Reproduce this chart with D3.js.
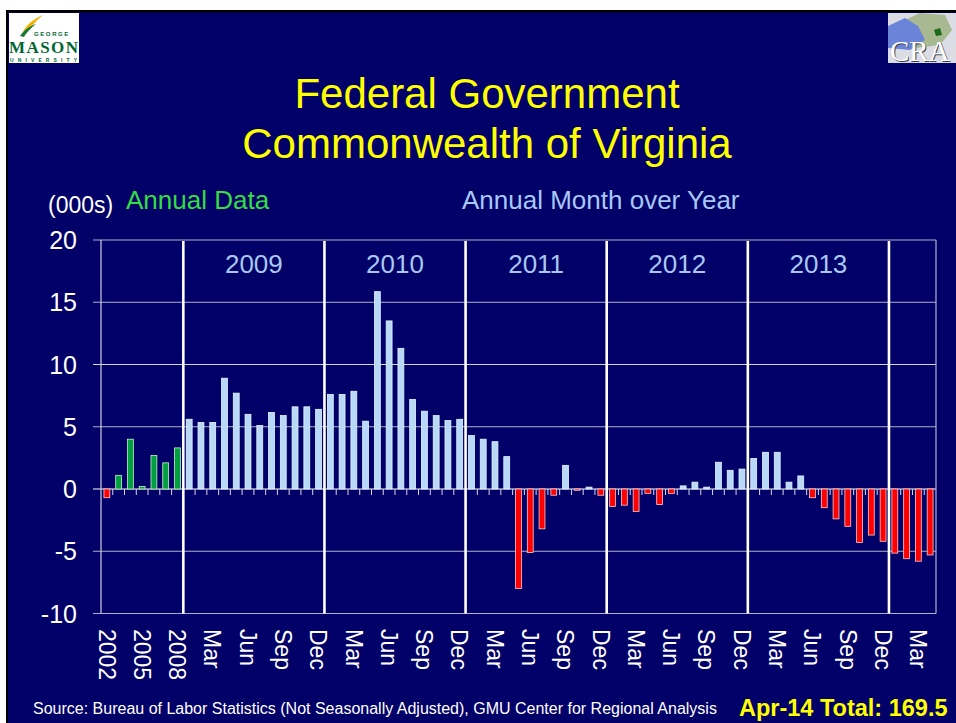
<!DOCTYPE html>
<html>
<head>
<meta charset="utf-8">
<script src="https://cdn.jsdelivr.net/npm/d3@7"></script>
<style>
  html, body { margin: 0; padding: 0; background: #ffffff; }
  svg { display: block; font-family: "Liberation Sans", Arial, sans-serif; }
</style>
</head>
<body>
<div id="chart"></div>
<script>
// annual totals (left part of chart)
var annualYears = ["2002", "2003", "2004", "2005", "2006", "2007", "2008"];
var annualValues = [-0.7, 1.1, 4.0, 0.2, 2.7, 2.1, 3.3];

// month over year change, Jan 2009 .. Apr 2014
var monthNames = ["Jan", "Feb", "Mar", "Apr", "May", "Jun", "Jul", "Aug", "Sep", "Oct", "Nov", "Dec"];
var monthYears = ["2009", "2010", "2011", "2012", "2013", "2014"];
var monthlyValues = [
  5.6, 5.35, 5.35, 8.9, 7.7, 6.0, 5.1, 6.15, 5.9, 6.6, 6.6, 6.4,
  7.6, 7.6, 7.85, 5.45, 15.85, 13.5, 11.3, 7.2, 6.25, 5.9, 5.5, 5.6,
  4.3, 4.0, 3.8, 2.6, -8.0, -5.1, -3.2, -0.5, 1.9, -0.1, 0.15, -0.5,
  -1.4, -1.3, -1.8, -0.35, -1.25, -0.35, 0.25, 0.55, 0.15, 2.15, 1.5, 1.6,
  2.45, 2.95, 2.95, 0.55, 1.05, -0.7, -1.5, -2.4, -3.0, -4.3, -3.7, -4.2,
  -5.15, -5.6, -5.8, -5.3
];

// year headings inside the chart
var yearLabels = ["2009", "2010", "2011", "2012", "2013"];
var yTicks = [-10, -5, 0, 5, 10, 15, 20];

var width = 956, height = 723;

// build the category list
var data = [];
annualYears.forEach(function (y, i) {
  data.push({ key: y, label: y, value: annualValues[i], annual: true });
});
monthlyValues.forEach(function (v, i) {
  var m = monthNames[i % 12];
  var yr = monthYears[Math.floor(i / 12)];
  data.push({ key: m + "-" + yr, label: m, value: v, annual: false });
});

var svg = d3.select("#chart").append("svg")
  .attr("width", width)
  .attr("height", height);

// slide background
svg.append("rect").attr("x", 6).attr("y", 10).attr("width", width - 6).attr("height", height - 10).attr("fill", "#000000");
svg.append("rect").attr("x", 8).attr("y", 12.5).attr("width", width - 8).attr("height", height - 12.5).attr("fill", "#000068");

// scales
var x = d3.scaleBand()
  .domain(data.map(function (d) { return d.key; }))
  .range([101, 936])
  .paddingInner(0.5)
  .paddingOuter(0.25);
var y = d3.scaleLinear().domain([-10, 20]).range([613.5, 240]);
var gap = (x.step() - x.bandwidth()) / 2;

// gridlines
svg.append("g").selectAll("line").data(yTicks).enter().append("line")
  .attr("x1", 93).attr("x2", 936)
  .attr("y1", function (d) { return y(d); })
  .attr("y2", function (d) { return y(d); })
  .attr("stroke", function (d) { return d === 0 ? "#ffffff" : (d === 10 ? "#d4d4e4" : "#b0b0c8"); })
  .attr("stroke-width", 1.2);

// frame
svg.append("line").attr("x1", 101).attr("x2", 101).attr("y1", y(20)).attr("y2", y(-10)).attr("stroke", "#d0d0e0").attr("stroke-width", 1.2);
svg.append("line").attr("x1", 936).attr("x2", 936).attr("y1", y(20)).attr("y2", y(-10)).attr("stroke", "#b4b4cc").attr("stroke-width", 1.2);

// y tick labels
svg.append("g").selectAll("text").data(yTicks).enter().append("text")
  .attr("x", 77).attr("y", function (d) { return y(d); })
  .attr("dy", "0.36em")
  .attr("text-anchor", "end")
  .attr("fill", "#ffffff")
  .attr("font-size", 25)
  .text(function (d) { return d; });

// small ticks under the zero line
svg.append("g").selectAll("line").data(data.slice(1)).enter().append("line")
  .attr("x1", function (d) { return x(d.key) - gap; })
  .attr("x2", function (d) { return x(d.key) - gap; })
  .attr("y1", y(0)).attr("y2", y(0) + 6)
  .attr("stroke", "#d8d8e8").attr("stroke-width", 1);

// bars
function fillOf(d) {
  if (d.value < 0) return "#ff0000";
  return d.annual ? "#00a040" : "#b8d8f8";
}
function strokeOf(d) {
  if (d.value < 0) return "#ffc8c8";
  return d.annual ? "#c8f0c8" : "#e8f4ff";
}
svg.append("g").selectAll("rect").data(data).enter().append("rect")
  .attr("x", function (d) { return x(d.key); })
  .attr("width", x.bandwidth())
  .attr("y", function (d) { return y(Math.max(0, d.value)); })
  .attr("height", function (d) { return Math.abs(y(d.value) - y(0)); })
  .attr("fill", fillOf)
  .attr("stroke", strokeOf)
  .attr("stroke-width", 0.8);

// year separators
var sepKeys = ["Jan-2009", "Jan-2010", "Jan-2011", "Jan-2012", "Jan-2013", "Jan-2014"];
svg.append("g").selectAll("line").data(sepKeys).enter().append("line")
  .attr("x1", function (d) { return x(d) - gap; })
  .attr("x2", function (d) { return x(d) - gap; })
  .attr("y1", 241).attr("y2", y(-10))
  .attr("stroke", "#ffffff").attr("stroke-width", 2.6);

// year headings centred between separators
svg.append("g").selectAll("text").data(yearLabels).enter().append("text")
  .attr("x", function (d, i) { return (x(sepKeys[i]) + x(sepKeys[i + 1])) / 2 - gap; })
  .attr("y", 273)
  .attr("text-anchor", "middle")
  .attr("fill", "#a8c8f0")
  .attr("font-size", 26)
  .text(function (d) { return d; });

// x labels, every third category, rotated
svg.append("g").selectAll("text")
  .data(data.filter(function (d, i) { return i % 3 === 0; }))
  .enter().append("text")
  .attr("transform", function (d) {
    return "translate(" + (x(d.key) + x.bandwidth() / 2) + ",629) rotate(90)";
  })
  .attr("dy", "0.36em")
  .attr("fill", "#ffffff")
  .attr("font-size", 23)
  .text(function (d) { return d.label; });

// titles
svg.append("text").attr("x", 487).attr("y", 108).attr("text-anchor", "middle")
  .attr("fill", "#ffff00").attr("font-size", 42).text("Federal Government");
svg.append("text").attr("x", 487).attr("y", 158).attr("text-anchor", "middle")
  .attr("fill", "#ffff00").attr("font-size", 42).text("Commonwealth of Virginia");

svg.append("text").attr("x", 48).attr("y", 213).attr("fill", "#ffffff").attr("font-size", 23).text("(000s)");
svg.append("text").attr("x", 126).attr("y", 209).attr("fill", "#33dd44").attr("font-size", 26).text("Annual Data");
svg.append("text").attr("x", 462).attr("y", 209).attr("fill", "#a8c8f8").attr("font-size", 26).text("Annual Month over Year");

svg.append("text").attr("x", 33).attr("y", 714).attr("fill", "#ffffff").attr("font-size", 16)
  .text("Source: Bureau of Labor Statistics (Not Seasonally Adjusted), GMU Center for Regional Analysis");
svg.append("text").attr("x", 739).attr("y", 716).attr("fill", "#ffff00").attr("font-size", 23.5).attr("font-weight", "bold")
  .text("Apr-14 Total: 169.5");

// George Mason logo (rough)
var gmu = svg.append("g");
gmu.append("rect").attr("x", 9).attr("y", 13).attr("width", 70).attr("height", 50).attr("fill", "#ffffff");
gmu.append("path").attr("d", "M22,34 C26,24 34,19 43,15 C36,21 30,27 26,34 Z").attr("fill", "#f0b400");
gmu.append("path").attr("d", "M20,36 C24,30 30,26 36,24 C30,29 26,33 24,37 Z").attr("fill", "#1a7a3a");
gmu.append("text").attr("x", 34).attr("y", 35.5).attr("fill", "#006633").attr("font-size", 6).attr("font-weight", "bold")
  .attr("letter-spacing", 1.6).text("GEORGE");
gmu.append("text").attr("x", 9).attr("y", 53).attr("fill", "#006633").attr("font-size", 17).attr("font-weight", "bold")
  .attr("font-family", "Liberation Serif, serif").attr("textLength", 69).text("MASON");
gmu.append("text").attr("x", 10).attr("y", 62).attr("fill", "#006633").attr("font-size", 5).attr("font-weight", "bold")
  .attr("textLength", 67).text("UNIVERSITY");

// CRA logo (rough)
var cra = svg.append("g");
cra.append("rect").attr("x", 888).attr("y", 13).attr("width", 68).attr("height", 50).attr("fill", "#dcdce4");
cra.append("path").attr("d", "M905,20 L920,13 L945,15 L952,30 L940,45 L915,48 L895,40 Z").attr("fill", "#a8b890");
cra.append("path").attr("d", "M888,26 L905,18 L918,26 L925,40 L910,50 L888,48 Z").attr("fill", "#6a84d8");
cra.append("path").attr("d", "M934,30 L940,28 L942,35 L936,36 Z").attr("fill", "#1a6a1a");
cra.append("text").attr("x", 891).attr("y", 62).attr("fill", "#404040").attr("font-size", 29)
  .attr("font-family", "Liberation Serif, serif").text("CRA");
cra.append("text").attr("x", 890).attr("y", 61).attr("fill", "#ffffff").attr("font-size", 29)
  .attr("font-family", "Liberation Serif, serif").text("CRA");
</script>
</body>
</html>
